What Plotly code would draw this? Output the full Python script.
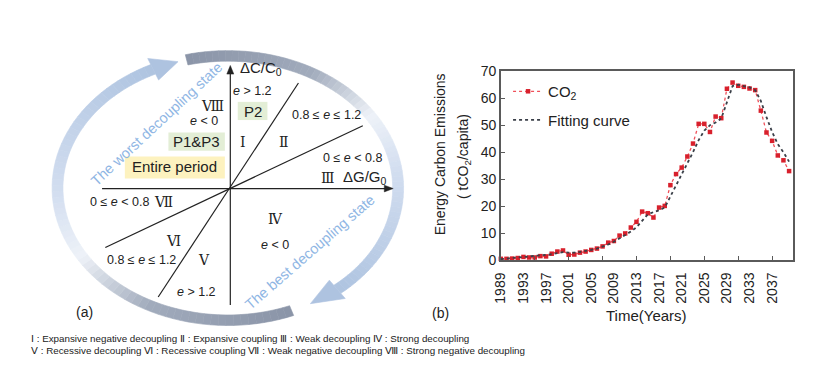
import numpy as np
import plotly.graph_objects as go

# ---------------- data (panel b) ----------------
years = list(range(1989, 2041))
co2 = [0.5, 0.5, 0.6, 0.8, 1.2, 1.0, 1.0, 1.5, 1.4, 2.4, 3.2, 3.6,
       2.0, 2.1, 2.8, 3.2, 3.8, 4.3, 5.1, 6.5, 7.1, 9.1,
       9.9, 12.1, 14.2, 18.0, 17.4, 15.8, 19.5, 20.1, 27.8, 31.9,
       34.3, 38.4, 43.2, 50.5, 50.5, 47.5, 53.2, 52.6, 63.5, 65.8,
       64.6, 64.2, 63.6, 63.0, 55.4, 47.3, 44.2, 38.8, 37.0, 33.0]
fit = [0.4, 0.6, 0.8, 1.0, 1.2, 1.3, 1.4, 1.6, 1.8, 2.2, 2.6, 3.0,
       2.8, 2.8, 3.1, 3.4, 3.8, 4.3, 5.0, 5.8, 6.8, 8.0,
       9.2, 10.6, 12.2, 14.5, 17.0, 17.8, 18.5, 19.5, 23.5, 27.5,
       31.5, 35.5, 40.0, 44.5, 48.0, 50.0, 51.0, 52.5, 58.5, 64.5,
       65.0, 64.5, 64.0, 63.0, 59.0, 53.0, 47.5, 43.0, 40.0, 36.5]
label_years = list(range(1989, 2038, 4))
tick_years = list(range(1989, 2038, 6))
y_ticks = list(range(0, 71, 10))

W, H = 818, 379
FONT = "Liberation Sans, Arial, sans-serif"


def P(x):
    return x / W


def Q(y):
    return 1 - y / H


fig = go.Figure()

fig.add_trace(go.Scatter(
    x=years, y=co2, name="CO<sub>2</sub>", mode="lines+markers",
    line=dict(color="#f0505a", width=1.3, dash="dot"),
    marker=dict(color="#d8202c", size=4.5, symbol="square"),
    cliponaxis=False, legendgroup="a"))
fig.add_trace(go.Scatter(
    x=years, y=fit, name="Fitting curve", mode="lines",
    line=dict(color="#3a3f48", width=1.8, dash="dot"),
    cliponaxis=False, legendgroup="b"))
# invisible trace to carry the tick-mark axis
fig.add_trace(go.Scatter(x=[years[0]], y=[None], xaxis="x3", yaxis="y",
                         showlegend=False, hoverinfo="skip"))

x0p, x1p = 497.7, 793.0
ytop, ybot = 66.0, 263.3
xr = [1989, 1989 + (x1p - x0p) / 5.708]

axis_line = "#5a5a5a"
fig.update_layout(
    width=W, height=H, margin=dict(l=0, r=0, t=0, b=0, pad=0),
    paper_bgcolor="white", plot_bgcolor="rgba(0,0,0,0)",
    font=dict(family=FONT, color="#222"),
    showlegend=True,
    legend=dict(x=P(505), y=Q(70), xanchor="left", yanchor="top",
                font=dict(size=15, family=FONT), bgcolor="rgba(0,0,0,0)",
                tracegroupgap=6, traceorder="grouped"),
    xaxis=dict(domain=[P(x0p), P(x1p)], range=xr, tickvals=label_years,
               ticktext=[str(v) for v in label_years], tickangle=-90,
               ticks="", showgrid=False, zeroline=False, ticklabelstandoff=5,
               showline=True, mirror=True, linecolor=axis_line, linewidth=1.5,
               tickfont=dict(size=14, family=FONT, color="#222")),
    xaxis3=dict(overlaying="x", range=xr, tickvals=tick_years, showticklabels=False,
                ticks="inside", ticklen=4, tickcolor=axis_line, tickwidth=1.3,
                showgrid=False, zeroline=False, showline=False,
                domain=[P(x0p), P(x1p)], anchor="y"),
    yaxis=dict(domain=[Q(ybot), Q(ytop)], range=[0, 70], tickvals=y_ticks,
               ticks="inside", ticklen=4, tickcolor=axis_line, showgrid=False,
               zeroline=False, showline=True, mirror=True, linecolor=axis_line,
               linewidth=1.5, tickfont=dict(size=14, family=FONT, color="#222")),
)

shapes = []
ann = []


def A(x, y, text, size=13, color="#222", family=FONT, **kw):
    d = dict(x=P(x), y=Q(y), xref="paper", yref="paper", text=text, showarrow=False,
             font=dict(size=size, color=color, family=family), borderpad=0,
             xanchor="center", yanchor="middle")
    d.update(kw)
    ann.append(d)


# ---------------- panel b texts ----------------
A(436, 153, "Energy Carbon Emissions", size=14, textangle=-90)
A(461, 155, "( tCO<sub>2</sub>/capita)", size=14, textangle=-90)
A(645, 321, "Time(Years)", size=15)
A(437, 318, "(b)", size=14)

# ---------------- panel a: ring arrows ----------------
cx, cy, rx, ry = 222.0, 188.0, 172.0, 138.0
bw = 11.0


def ept(t, d=0.0):
    return (cx + (rx + d) * np.cos(t), cy - (ry + d) * np.sin(t))


def pp(pt):
    return "%.5f %.5f" % (P(pt[0]), Q(pt[1]))


def mix(c1, c2, f):
    a = [int(c1[i:i + 2], 16) for i in (1, 3, 5)]
    b = [int(c2[i:i + 2], 16) for i in (1, 3, 5)]
    return "#%02x%02x%02x" % tuple(int(round(a[k] + (b[k] - a[k]) * f)) for k in range(3))


stops = [(0.0, "#8a94a7"), (0.28, "#a1abbc"), (0.46, "#eef2f8"), (0.62, "#d3def0"),
         (1.0, "#aec3e0")]


def color_at(s):
    for i in range(len(stops) - 1):
        s0, c0 = stops[i]
        s1, c1 = stops[i + 1]
        if s <= s1:
            return mix(c0, c1, (s - s0) / (s1 - s0))
    return stops[-1][1]


def poly(pts, col, width=0.6, layer="below"):
    path = "M " + " L ".join(pp(p) for p in pts) + " Z"
    shapes.append(dict(type="path", path=path, xref="paper", yref="paper",
                       fillcolor=col, line=dict(color=col, width=width), layer=layer))


def ring_arrow(t_start, t_end, t_tip, n=70):
    ts = np.linspace(np.radians(t_start), np.radians(t_end), n + 1)
    for i in range(n):
        a, b = ts[i], ts[i + 1]
        poly([ept(a, bw / 2), ept(b, bw / 2), ept(b, -bw / 2), ept(a, -bw / 2)],
             color_at((i + 0.5) / n))
    tb = np.radians(t_end)
    poly([ept(tb, bw / 2 + 7), ept(np.radians(t_tip), 0), ept(tb, -bw / 2 - 7)],
         color_at(1.0))


ring_arrow(-68, -244, -253)   # worst-state arrow (bottom -> left -> top)
ring_arrow(104, -50, -61)     # best-state arrow (top -> right -> bottom)

A(150, 121, "The worst decoupling state", size=14.5, color="#8fb6e4", textangle=-43)
A(305, 255, "The best decoupling state", size=14.5, color="#8fb6e4", textangle=-41)

# ---------------- panel a: quadrant diagram ----------------
ox, oy = 224.5, 188.5


def seg(xa, ya, xb, yb, w=1.2):
    shapes.append(dict(type="line", xref="paper", yref="paper", x0=P(xa), y0=Q(ya),
                       x1=P(xb), y1=Q(yb), line=dict(color="#222", width=w)))


seg(151.7, 301.7, 293.3, 78.3)
seg(98.3, 250, 358.3, 123)
# axes with arrowheads
seg(ox, 310, ox, 66)
seg(95, oy, 383, oy)
poly([(ox, 60), (ox - 3.5, 69), (ox + 3.5, 69)], "#222", width=0.5, layer="above")
poly([(389, oy), (380, oy - 3.5), (380, oy + 3.5)], "#222", width=0.5, layer="above")

# highlight boxes
for (xa, ya, xb, yb, col) in [(232, 98, 262, 117, "#e3eed6"),
                              (162, 130, 219, 149, "#e3eed6"),
                              (118, 155, 219, 178, "#fdf2bf")]:
    shapes.append(dict(type="rect", xref="paper", yref="paper", x0=P(xa), y0=Q(ya),
                       x1=P(xb), y1=Q(yb), fillcolor=col, line=dict(width=0), layer="below"))

RN = "DejaVu Serif, Noto Sans CJK SC, serif"
A(256, 63, "ΔC/C<sub>0</sub>", size=15)
A(247, 87, "<i>e</i> > 1.2", size=12.5)
A(207, 102, "Ⅷ", size=14, family=RN)
A(247, 108, "P2", size=15)
A(322, 112, "0.8 ≤ <i>e</i> ≤ 1.2", size=12.5)
A(198, 118, "<i>e</i> < 0", size=12.5)
A(190, 139, "P1&P3", size=15)
A(237, 140, "Ⅰ", size=14, family=RN)
A(279, 140, "Ⅱ", size=14, family=RN)
A(348, 157, "0 ≤ <i>e</i> < 0.8", size=12.5)
A(168, 166, "Entire period", size=15)
A(323, 177, "Ⅲ", size=14, family=RN)
A(361, 177, "ΔG/G<sub>0</sub>", size=15)
A(113, 203, "0 ≤ <i>e</i> < 0.8", size=12.5)
A(157, 203, "Ⅶ", size=14, family=RN)
A(270, 220, "Ⅳ", size=14, family=RN)
A(167, 243, "Ⅵ", size=14, family=RN)
A(270, 247, "<i>e</i> < 0", size=12.5)
A(135, 263, "0.8 ≤ <i>e</i> ≤ 1.2", size=12.5)
A(198, 263, "Ⅴ", size=14, family=RN)
A(190, 297, "<i>e</i> > 1.2", size=12.5)
A(77, 317, "(a)", size=14)

# ---------------- caption ----------------
CAP = "Liberation Sans, sans-serif"
A(22, 345, "Ⅰ : Expansive negative decoupling Ⅱ : Expansive coupling Ⅲ : Weak decoupling Ⅳ : Strong decoupling",
  size=9.8, family=CAP, xanchor="left")
A(22, 358, "Ⅴ : Recessive decoupling Ⅵ : Recessive coupling Ⅶ : Weak negative decoupling Ⅷ : Strong negative decoupling",
  size=9.8, family=CAP, xanchor="left")

fig.update_layout(shapes=shapes, annotations=ann)
fig.write_html("out.html", config={"displayModeBar": False},
               post_script="document.body.style.margin='0';")
